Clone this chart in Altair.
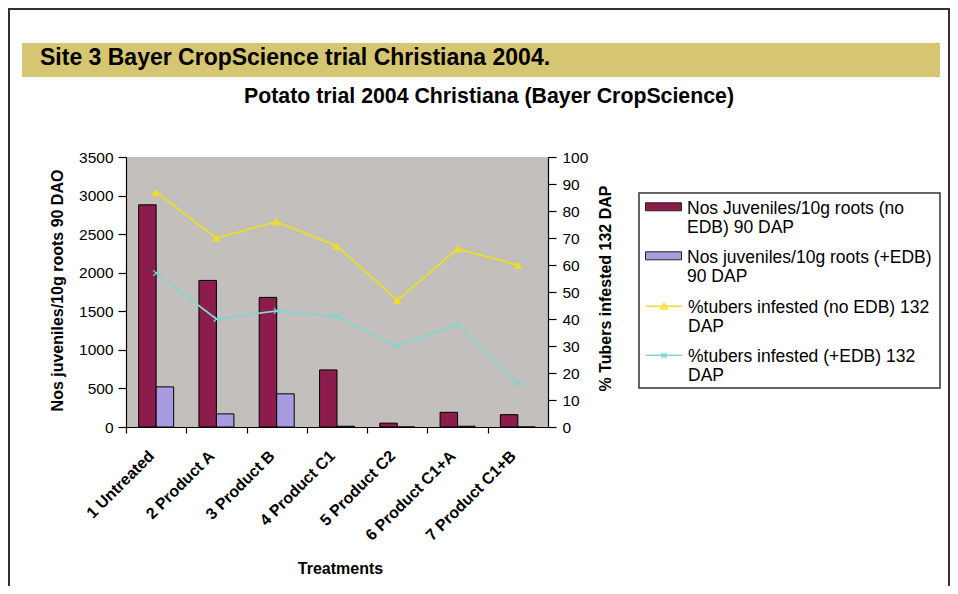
import altair as alt
import pandas as pd

# ---------------- data ----------------
treatments = ["1 Untreated", "2 Product A", "3 Product B", "4 Product C1",
              "5 Product C2", "6 Product C1+A", "7 Product C1+B"]
juveniles_no_edb = [2880, 1900, 1680, 740, 50, 190, 160]
juveniles_edb = [520, 170, 430, 10, 0, 10, 0]
tubers_no_edb = [87, 70, 76, 67, 47, 66, 60]
tubers_edb = [57, 40, 43, 41, 30, 38, 16]

bar_series = ["Nos Juveniles/10g roots (no\nEDB) 90 DAP",
              "Nos juveniles/10g roots (+EDB)\n90 DAP"]
line_series = ["%tubers infested (no EDB) 132\nDAP",
               "%tubers infested (+EDB) 132\nDAP"]

bar_colors = ["#8c1c4c", "#a89be0"]
line_colors = ["#efe01c", "#7fd6d2"]

banner_text = "Site 3 Bayer CropScience trial Christiana 2004."
chart_title = "Potato trial 2004 Christiana (Bayer CropScience)"
left_title = "Nos juveniles/10g roots 90 DAO"
right_title = "% Tubers infested 132 DAP"
x_title = "Treatments"

bars_df = pd.DataFrame({
    "treatment": treatments * 2,
    "series": [bar_series[0]] * len(treatments) + [bar_series[1]] * len(treatments),
    "value": juveniles_no_edb + juveniles_edb,
})
lines_df = pd.DataFrame({
    "treatment": treatments * 2,
    "series": [line_series[0]] * len(treatments) + [line_series[1]] * len(treatments),
    "pct": tubers_no_edb + tubers_edb,
})
one = pd.DataFrame({"d": [0]})

W, H = 422, 270
step = W / len(treatments)
FONT = "Liberation Sans"

# ---------------- encodings ----------------
x_enc = alt.X(
    "treatment:N",
    scale=alt.Scale(domain=treatments, paddingInner=0.42, paddingOuter=0.21),
    axis=alt.Axis(
        title=x_title, labelAngle=315, labelAlign="right", labelBaseline="middle",
        labelFontSize=16, labelFontWeight="bold", labelPadding=20,
        tickOffset=-step / 2, labelOffset=step / 2 - 5, tickSize=6,
        titleFontSize=16, titleFontWeight="bold", titleX=W / 2 + 3, titleY=141,
        titleBaseline="middle", titleAlign="center", labelLimit=250,
    ),
)

left_axis = alt.Axis(
    orient="left", values=list(range(0, 3501, 500)), format="d", title=left_title,
    grid=False, tickSize=8, labelPadding=5, labelFontSize=15.5,
    titleFontSize=16, titleFontWeight="bold", titleX=-69, titleY=133,
    titleAngle=270, titleBaseline="middle", titleAlign="center",
)
right_axis = alt.Axis(
    orient="right", values=list(range(0, 101, 10)), format="d", title=right_title,
    grid=False, tickSize=8, labelPadding=6, labelFontSize=15.5,
    titleFontSize=16, titleFontWeight="bold", titleX=57, titleY=131,
    titleAngle=270, titleBaseline="middle", titleAlign="center",
)

label_split = "split(datum.label, '\\n')"

bar_legend = alt.Legend(
    title=None, orient="none", legendX=527, legendY=32, padding=0,
    labelExpr=label_split, labelFontSize=17.5, labelBaseline="top", labelOffset=13,
    symbolSize=400, symbolType="M-1.8,0.33H1.8V1.13H-1.8Z",
    symbolStrokeColor="#222222", symbolStrokeWidth=1, rowPadding=2, labelLimit=300,
)
line_legend = alt.Legend(
    title=None, orient="none", legendX=527, legendY=131, padding=0,
    labelExpr=label_split, labelFontSize=17.5, labelBaseline="top", labelOffset=13,
    symbolSize=400, symbolStrokeWidth=1.5, rowPadding=1, labelLimit=300,
)

# ---------------- decorations ----------------
frame = alt.Chart(one).mark_rect(filled=False, stroke="#333333", strokeWidth=2).encode(
    x=alt.value(-117), x2=alt.value(823), y=alt.value(-148), y2=alt.value(460))
banner = alt.Chart(one).mark_rect(fill="#d6c571").encode(
    x=alt.value(-104), x2=alt.value(814), y=alt.value(-114), y2=alt.value(-80))
banner_lbl = alt.Chart(one).mark_text(
    align="left", baseline="alphabetic", fontSize=23, fontWeight="bold",
    font=FONT, color="black").encode(
    x=alt.value(-86), y=alt.value(-92), text=alt.value(banner_text))
title_lbl = alt.Chart(one).mark_text(
    align="left", baseline="alphabetic", fontSize=21.3, fontWeight="bold",
    font=FONT, color="black").encode(
    x=alt.value(118), y=alt.value(-54), text=alt.value(chart_title))
legend_box = alt.Chart(one).mark_rect(fill="white", stroke="#333333", strokeWidth=1.5).encode(
    x=alt.value(513), x2=alt.value(814), y=alt.value(36), y2=alt.value(231))

# ---------------- data marks ----------------
bars = alt.Chart(bars_df).mark_bar(stroke="black", strokeWidth=1).encode(
    x=x_enc,
    xOffset=alt.XOffset("series:N", scale=alt.Scale(domain=bar_series, paddingInner=0, paddingOuter=0)),
    y=alt.Y("value:Q", scale=alt.Scale(domain=[0, 3500], nice=False), axis=left_axis),
    fill=alt.Fill("series:N", scale=alt.Scale(domain=bar_series, range=bar_colors), legend=bar_legend),
)

y_right = alt.Y("pct:Q", scale=alt.Scale(domain=[0, 100], nice=False), axis=right_axis)
stroke_scale = alt.Scale(domain=line_series, range=line_colors)

lines = alt.Chart(lines_df).mark_line(strokeWidth=1.7).encode(
    x=x_enc, y=y_right,
    stroke=alt.Stroke("series:N", scale=stroke_scale, legend=line_legend),
)
pts_tri = alt.Chart(lines_df).transform_filter(
    alt.datum.series == line_series[0]).mark_point(
    shape="triangle-up", filled=True, size=70, color=line_colors[0], opacity=1).encode(
    x=x_enc, y=y_right)
pts_x = alt.Chart(lines_df).transform_filter(
    alt.datum.series == line_series[1]).mark_point(
    shape="M-1,-1L1,1M-1,1L1,-1", filled=False, size=30, strokeWidth=1.3,
    color=line_colors[1], opacity=1).encode(
    x=x_enc, y=y_right)

legend_paths = [
    "M-1.8,0.73H1.8M-0.3,0.98L0,0.48L0.3,0.98Z",
    "M-1.8,0.73H1.8M-0.25,0.48L0.25,0.98M-0.25,0.98L0.25,0.48",
]
legend_carrier = alt.Chart(lines_df).transform_filter("false").mark_point(
    filled=False, opacity=1).encode(
    x=x_enc, y=y_right,
    stroke=alt.Stroke("series:N", scale=stroke_scale, legend=line_legend),
    shape=alt.Shape("series:N", scale=alt.Scale(domain=line_series, range=legend_paths),
                    legend=line_legend),
)

line_group = alt.layer(lines, pts_tri, pts_x, legend_carrier)

chart = alt.layer(
    frame, banner, banner_lbl, title_lbl, legend_box, bars, line_group
).resolve_scale(y="independent").properties(
    width=W, height=H,
    padding={"left": 118, "top": 149, "right": 402, "bottom": 159},
    autosize=alt.AutoSizeParams(type="none"),
).configure(
    font=FONT,
    style={"guide-label": {"lineHeight": 19}},
).configure_view(
    fill="#c2bfbc", stroke=None,
).configure_axis(
    labelColor="black", titleColor="black", domainColor="black", tickColor="black",
    domainWidth=1.2, tickWidth=1.2, labelFont=FONT, titleFont=FONT,
).configure_legend(
    labelColor="black", labelFont=FONT,
)

chart.save("out.html", embed_options={"renderer": "svg", "actions": False})
